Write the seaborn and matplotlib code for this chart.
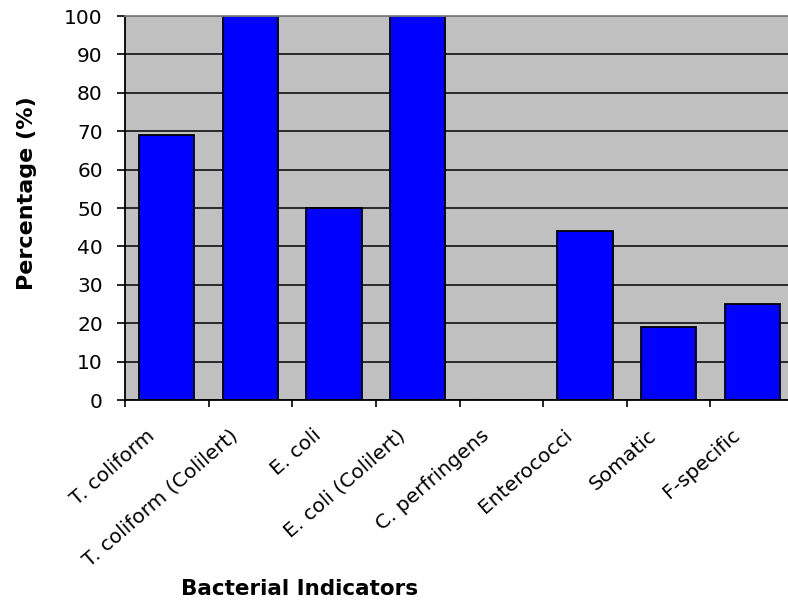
import matplotlib
matplotlib.use("Agg")
import matplotlib.pyplot as plt
import matplotlib.transforms as mtransforms
import seaborn as sns
import pandas as pd

# Share of samples positive for each bacterial indicator
indicators = [
    "T. coliform",
    "T. coliform (Colilert)",
    "E. coli",
    "E. coli (Colilert)",
    "C. perfringens",
    "Enterococci",
    "Somatic",
    "F-specific",
]
percentages = [69, 100, 50, 100, 0, 44, 19, 25]
y_ticks = [0, 10, 20, 30, 40, 50, 60, 70, 80, 90, 100]

sns.set_style("white")
plt.rcParams["font.family"] = ["DejaVu Sans"]
plt.rcParams["text.color"] = "black"
plt.rcParams["xtick.color"] = "black"
plt.rcParams["ytick.color"] = "black"

W, H = 788, 603
fig = plt.figure(figsize=(W / 100, H / 100), dpi=100)
ax = fig.add_axes([125 / W, 1 - 400 / H, (794 - 125) / W, (400 - 16) / H])

df = pd.DataFrame({"Indicator": indicators, "Percentage": percentages})
sns.barplot(
    data=df, x="Indicator", y="Percentage",
    color="#0000ff", saturation=1, edgecolor="black", linewidth=1.3,
    width=0.66, ax=ax,
)

n = len(indicators)
ax.set_facecolor("#c0c0c0")
ax.set_xlim(-0.5, n - 0.5)
ax.set_ylim(0, 100)
ax.set_yticks(y_ticks)
ax.yaxis.grid(True, color="black", linewidth=1.1)
ax.xaxis.grid(False)
ax.set_axisbelow(True)

ax.tick_params(axis="y", direction="out", left=True, length=6, width=1.2,
               pad=10, labelsize=14.5, colors="black")

# category labels sit at the bar centres, tick marks at the category boundaries
ax.set_xticks(range(n))
ax.set_xticklabels(indicators, rotation=41, ha="right", va="center",
                   rotation_mode="anchor", fontsize=14.5)
ax.tick_params(axis="x", which="major", length=0, pad=0)
ax.set_xticks([i - 0.5 for i in range(n + 1)], minor=True)
ax.tick_params(axis="x", which="minor", direction="out", bottom=True,
               length=5, width=1.2, colors="black")
shift = mtransforms.ScaledTranslation(-15 / 100, -33 / 100, fig.dpi_scale_trans)
for lab in ax.get_xticklabels():
    lab.set_transform(lab.get_transform() + shift)

ax.set_xlabel("")
ax.set_ylabel("")
for side in ("left", "bottom"):
    ax.spines[side].set_color("black")
    ax.spines[side].set_linewidth(1.3)
ax.spines["top"].set_color("#808080")
ax.spines["top"].set_linewidth(1.3)
ax.spines["right"].set_visible(False)

fig.text(300 / W, 1 - 589 / H, "Bacterial Indicators", fontsize=15.5,
         fontweight="bold", ha="center", va="center")
fig.text(27 / W, 1 - 193 / H, "Percentage (%)", rotation=90, fontsize=16,
         fontweight="bold", ha="center", va="center")

fig.savefig("out.png", dpi=100)
